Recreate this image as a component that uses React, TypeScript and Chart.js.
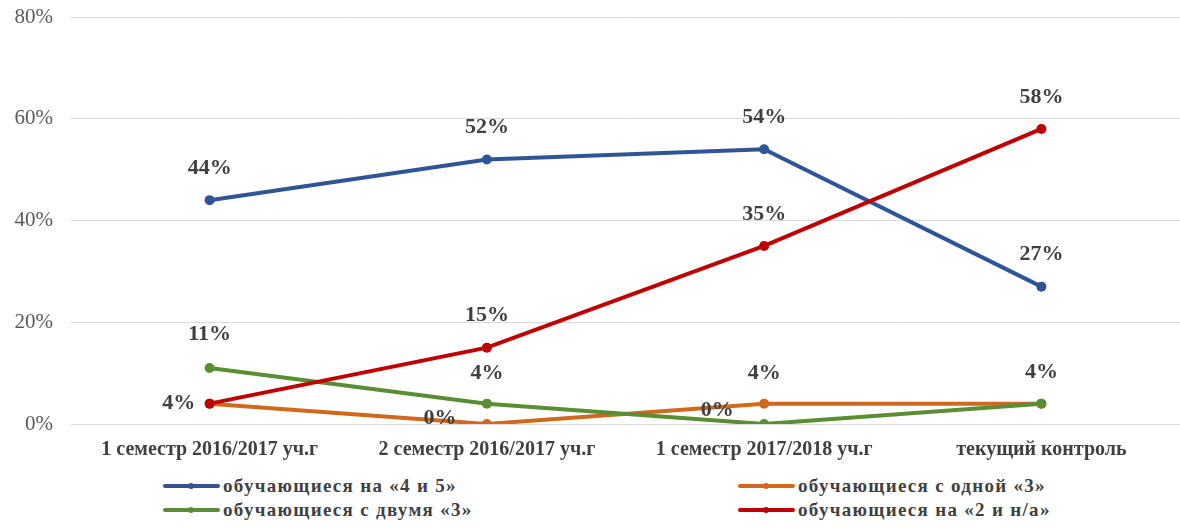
import React, { useEffect, useRef } from "react";
import { Chart, registerables } from "chart.js";

Chart.register(...registerables);

const categories = [
  "1 семестр 2016/2017 уч.г",
  "2 семестр 2016/2017 уч.г",
  "1 семестр 2017/2018 уч.г",
  "текущий контроль",
];
const seriesNames = [
  "обучающиеся на «4 и 5»",
  "обучающиеся с одной «3»",
  "обучающиеся с двумя «3»",
  "обучающиеся на «2 и н/а»",
];
const goodValues = [44, 52, 54, 27];
const oneThreeValues = [4, 0, 4, 4];
const twoThreeValues = [11, 4, 0, 4];
const badValues = [4, 15, 35, 58];
const yTickValues = [0, 20, 40, 60, 80];

const colors = ["#2F5597", "#D0691E", "#5A8E33", "#C00000"];
const seriesValues = [goodValues, oneThreeValues, twoThreeValues, badValues];

// label placement (style only): [dx, dy] relative to point, null = hidden
const TOP: [number, number] = [0, -32];
const labelOffsets: ([number, number] | null)[][] = [
  [TOP, TOP, TOP, TOP],
  [null, [-47, -6], [0, -30], null],
  [[0, -34], [0, -30], [-47, -14], [0, -31]],
  [[-31, 0], TOP, TOP, TOP],
];

const SERIF = '"Liberation Serif", "Times New Roman", serif';

const labelPlugin = {
  id: "pointLabels",
  afterDatasetsDraw(chart: any) {
    const ctx = chart.ctx;
    ctx.save();
    ctx.font = `bold 22px ${SERIF}`;
    ctx.fillStyle = "#404040";
    ctx.textAlign = "center";
    ctx.textBaseline = "middle";
    chart.data.datasets.forEach((ds: any, di: number) => {
      const meta = chart.getDatasetMeta(di);
      meta.data.forEach((pt: any, i: number) => {
        const off = labelOffsets[di][i];
        if (!off) return;
        ctx.fillText(ds.data[i] + "%", pt.x + off[0], pt.y + off[1]);
      });
    });
    ctx.restore();
  },
};

export default function App() {
  const ref = useRef<HTMLCanvasElement | null>(null);

  useEffect(() => {
    if (!ref.current) return;
    const chart = new Chart(ref.current, {
      type: "line",
      data: {
        labels: categories,
        datasets: seriesValues.map((vals, i) => ({
          label: seriesNames[i],
          data: vals,
          borderColor: colors[i],
          backgroundColor: colors[i],
          pointBackgroundColor: colors[i],
          pointBorderColor: colors[i],
          pointRadius: 5,
          pointBorderWidth: 0,
          borderWidth: 4,
          tension: 0,
          order: 4 - i,
        })),
      },
      options: {
        animation: false,
        responsive: false,
        maintainAspectRatio: false,
        devicePixelRatio: 1,
        layout: { padding: { top: 17, right: 0, left: 0, bottom: 0 } },
        plugins: {
          legend: { display: false },
          tooltip: { enabled: false },
        },
        scales: {
          x: {
            offset: true,
            grid: { display: false, drawTicks: false },
            border: { display: false },
            ticks: {
              padding: 14,
              color: "#404040",
              font: { family: SERIF, size: 20, weight: "bold" },
              maxRotation: 0,
              autoSkip: false,
            },
            afterFit(scale: any) {
              scale.height = 46;
              scale.paddingLeft = 0;
              scale.paddingRight = 0;
            },
          },
          y: {
            min: 0,
            max: 80,
            afterBuildTicks(scale: any) {
              scale.ticks = yTickValues.map((v) => ({ value: v }));
            },
            grid: { color: "#D9D9D9", lineWidth: 1, drawTicks: false },
            border: { display: false },
            ticks: {
              padding: 18,
              color: "#595959",
              font: { family: SERIF, size: 21 },
              callback: (v: any) => v + "%",
            },
            afterFit(scale: any) {
              scale.width = 71;
              scale.paddingTop = 0;
              scale.paddingBottom = 0;
            },
          },
        },
      },
      plugins: [labelPlugin],
    });
    return () => chart.destroy();
  }, []);

  const legendItem = (i: number, left: number, top: number) => (
    <div
      key={i}
      style={{
        position: "absolute",
        left,
        top,
        height: 24,
        display: "flex",
        alignItems: "center",
        whiteSpace: "nowrap",
      }}
    >
      <div style={{ position: "relative", width: 57, height: 24, marginRight: 3 }}>
        <div
          style={{
            position: "absolute",
            left: 0,
            right: 0,
            top: 10,
            height: 4,
            background: colors[i],
            borderRadius: 2,
          }}
        />
        <div
          style={{
            position: "absolute",
            left: 25,
            top: 9,
            width: 6,
            height: 6,
            borderRadius: 3,
            background: colors[i],
          }}
        />
      </div>
      <span
        style={{
          fontFamily: SERIF,
          fontWeight: "bold",
          fontSize: 19,
          letterSpacing: 1.3,
          color: "#404040",
        }}
      >
        {seriesNames[i]}
      </span>
    </div>
  );

  return (
    <div
      style={{
        position: "fixed",
        left: 0,
        top: 0,
        width: 1180,
        height: 527,
        background: "#ffffff",
        overflow: "hidden",
      }}
    >
      <canvas ref={ref} width={1185} height={470} style={{ display: "block", width: 1185, height: 470 }} />
      {legendItem(0, 163, 474)}
      {legendItem(1, 738, 474)}
      {legendItem(2, 163, 498)}
      {legendItem(3, 738, 498)}
    </div>
  );
}
